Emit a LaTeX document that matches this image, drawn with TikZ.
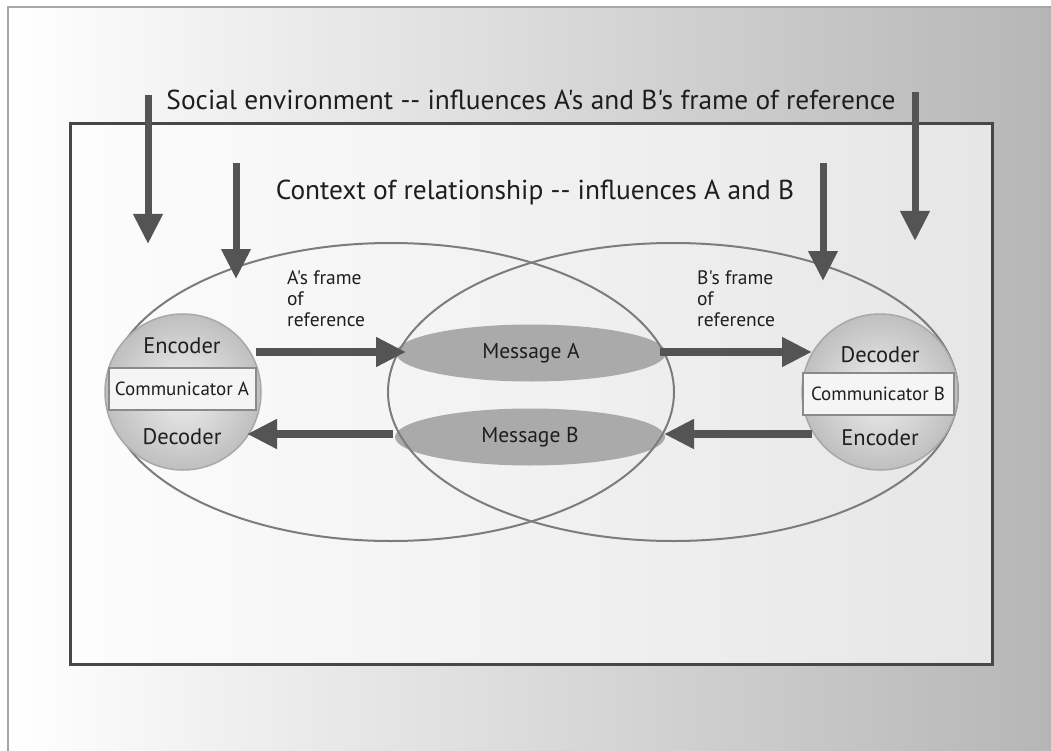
\documentclass[tikz,border=0pt]{standalone}
\usepackage{fontspec}
\setmainfont{PT Sans}[Ligatures=TeXOff]
\usetikzlibrary{arrows.meta,shapes.geometric}
\definecolor{arrowgray}{HTML}{545454}
\definecolor{framegray}{HTML}{474747}
\definecolor{ellgray}{HTML}{7C7C7C}
\definecolor{msggray}{HTML}{AAAAAA}
\definecolor{bandgray}{HTML}{8A8A8A}
\definecolor{circline}{HTML}{A8A8A8}
\definecolor{bgright}{HTML}{B6B6B6}
\definecolor{inright}{HTML}{E6E6E6}
\definecolor{txt}{HTML}{1E1E1E}
\tikzset{
  fatarrow/.style={draw=arrowgray, line width=8pt, -{Triangle[length=30pt,width=28pt]}},
  droparrow/.style={draw=arrowgray, line width=7pt, -{Triangle[length=30pt,width=28pt]}},
  bigell/.style={ellipse, draw=ellgray, line width=2pt, minimum width=#1, minimum height=298pt, inner sep=0pt},
  msg/.style={ellipse, fill=msggray, minimum width=270pt, minimum height=57pt, inner sep=0pt, text=txt, font=\fontsize{21.5}{24}\selectfont},
  commcirc/.style={circle, draw=circline, line width=1.5pt, inner color=gray!12, outer color=gray!50, minimum size=156pt, inner sep=0pt},
  band/.style={draw=bandgray, line width=2pt, fill=white!92!gray, minimum height=42pt, inner sep=0pt, text=txt, font=\fontsize{19}{22}\selectfont},
  codetext/.style={font=\fontsize{22.5}{25}\selectfont, text=txt},
  frametext/.style={font=\fontsize{19.5}{21}\selectfont, align=left, anchor=north west, text=txt, inner sep=0pt},
  bigtext/.style={font=\fontsize{27.4}{31}\selectfont, text=txt},
}
\begin{document}
\begin{tikzpicture}[x=1pt,y=-1pt]
\useasboundingbox (0,0) rectangle (1051,751);
% background
\shade[left color=white, right color=bgright] (8,7) rectangle (1051,751);
\draw[gray!70, line width=2pt] (8,751) -- (8,7) -- (1051,7);
% inner frame
\shade[left color=white!98!gray, right color=inright] (70,124) rectangle (992,664);
\draw[framegray, line width=3pt] (70,124) rectangle (992,664);
% titles
\node[bigtext] (social) at (531,100) {Social environment -- influences A's and B's frame of reference};
\node[bigtext] (context) at (535,192) {Context of relationship -- influences A and B};
% message ellipses
\node[msg] (msgA) at (531,353) {Message A};
\node[msg] (msgB) at (530,437) {Message B};
% big ellipses
\node[bigell=566pt] (ellA) at (391,392) {};
\node[bigell=570pt] (ellB) at (673,392) {};
% communicator A
\node[commcirc] (circA) at (183,392) {};
\node[band, minimum width=147pt] (bandA) at (182,389) {Communicator A};
\node[codetext] (encA) at (182,346) {Encoder};
\node[codetext] (decA) at (182,437) {Decoder};
% communicator B
\node[commcirc] (circB) at (880,392) {};
\node[band, minimum width=151pt] (bandB) at (878,394) {Communicator B};
\node[codetext] (decB) at (880,355) {Decoder};
\node[codetext] (encB) at (880,438) {Encoder};
% frame of reference labels
\node[frametext] (frA) at (287,270) {A's frame\\of\\reference};
\node[frametext] (frB) at (697,270) {B's frame\\of\\reference};
% arrow coordinates
\coordinate (sL0) at (148,95);  \coordinate (sL1) at (148,244);
\coordinate (sR0) at (915,92);  \coordinate (sR1) at (915,241);
\coordinate (cL0) at (236,163); \coordinate (cL1) at (236,279);
\coordinate (cR0) at (823,163); \coordinate (cR1) at (823,281);
\coordinate (a1s) at (256,352); \coordinate (a1e) at (406,352);
\coordinate (a2s) at (660,352); \coordinate (a2e) at (812,352);
\coordinate (a3s) at (393,434); \coordinate (a3e) at (247,434);
\coordinate (a4s) at (812,434); \coordinate (a4e) at (664,434);
% arrows
\draw[droparrow] (sL0) -- (sL1);
\draw[droparrow] (sR0) -- (sR1);
\draw[droparrow] (cL0) -- (cL1);
\draw[droparrow] (cR0) -- (cR1);
\draw[fatarrow] (a1s) -- (a1e);
\draw[fatarrow] (a2s) -- (a2e);
\draw[fatarrow] (a3s) -- (a3e);
\draw[fatarrow] (a4s) -- (a4e);
\end{tikzpicture}
\end{document}
